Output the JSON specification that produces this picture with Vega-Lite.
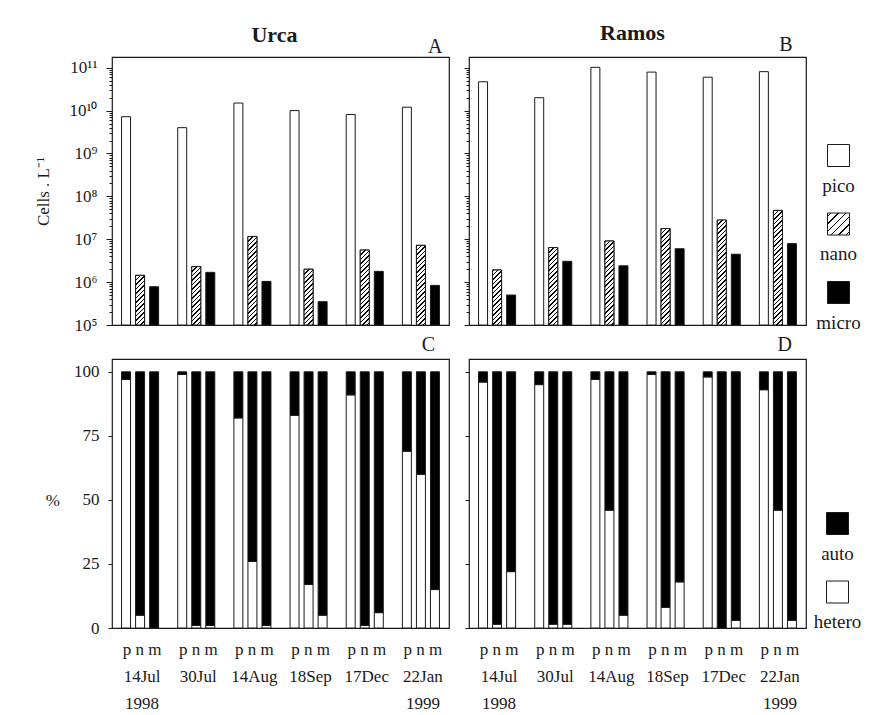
{
"$schema": "https://vega.github.io/schema/vega-lite/v6.json",
"autosize": {"type": "none"},
"padding": {"left": 112, "top": 57, "right": 762, "bottom": 658},
"background": "white",
"bounds": "flush",
"columns": 2,
"spacing": {"row": 34, "column": 20},
"params": [{"name": "hatch", "value": [
{"offset":0,"color":"#000"},{"offset":0.0115,"color":"#000"},{"offset":0.0115,"color":"#fff"},{"offset":0.0345,"color":"#fff"},
{"offset":0.0345,"color":"#000"},{"offset":0.046,"color":"#000"},{"offset":0.046,"color":"#fff"},{"offset":0.069,"color":"#fff"},
{"offset":0.069,"color":"#000"},{"offset":0.0805,"color":"#000"},{"offset":0.0805,"color":"#fff"},{"offset":0.1034,"color":"#fff"},
{"offset":0.1034,"color":"#000"},{"offset":0.1149,"color":"#000"},{"offset":0.1149,"color":"#fff"},{"offset":0.1379,"color":"#fff"},
{"offset":0.1379,"color":"#000"},{"offset":0.1494,"color":"#000"},{"offset":0.1494,"color":"#fff"},{"offset":0.1724,"color":"#fff"},
{"offset":0.1724,"color":"#000"},{"offset":0.1839,"color":"#000"},{"offset":0.1839,"color":"#fff"},{"offset":0.2069,"color":"#fff"},
{"offset":0.2069,"color":"#000"},{"offset":0.2184,"color":"#000"},{"offset":0.2184,"color":"#fff"},{"offset":0.2414,"color":"#fff"},
{"offset":0.2414,"color":"#000"},{"offset":0.2529,"color":"#000"},{"offset":0.2529,"color":"#fff"},{"offset":0.2759,"color":"#fff"},
{"offset":0.2759,"color":"#000"},{"offset":0.2874,"color":"#000"},{"offset":0.2874,"color":"#fff"},{"offset":0.3103,"color":"#fff"},
{"offset":0.3103,"color":"#000"},{"offset":0.3218,"color":"#000"},{"offset":0.3218,"color":"#fff"},{"offset":0.3448,"color":"#fff"},
{"offset":0.3448,"color":"#000"},{"offset":0.3563,"color":"#000"},{"offset":0.3563,"color":"#fff"},{"offset":0.3793,"color":"#fff"},
{"offset":0.3793,"color":"#000"},{"offset":0.3908,"color":"#000"},{"offset":0.3908,"color":"#fff"},{"offset":0.4138,"color":"#fff"},
{"offset":0.4138,"color":"#000"},{"offset":0.4253,"color":"#000"},{"offset":0.4253,"color":"#fff"},{"offset":0.4483,"color":"#fff"},
{"offset":0.4483,"color":"#000"},{"offset":0.4598,"color":"#000"},{"offset":0.4598,"color":"#fff"},{"offset":0.4828,"color":"#fff"},
{"offset":0.4828,"color":"#000"},{"offset":0.4943,"color":"#000"},{"offset":0.4943,"color":"#fff"},{"offset":0.5172,"color":"#fff"},
{"offset":0.5172,"color":"#000"},{"offset":0.5287,"color":"#000"},{"offset":0.5287,"color":"#fff"},{"offset":0.5517,"color":"#fff"},
{"offset":0.5517,"color":"#000"},{"offset":0.5632,"color":"#000"},{"offset":0.5632,"color":"#fff"},{"offset":0.5862,"color":"#fff"},
{"offset":0.5862,"color":"#000"},{"offset":0.5977,"color":"#000"},{"offset":0.5977,"color":"#fff"},{"offset":0.6207,"color":"#fff"},
{"offset":0.6207,"color":"#000"},{"offset":0.6322,"color":"#000"},{"offset":0.6322,"color":"#fff"},{"offset":0.6552,"color":"#fff"},
{"offset":0.6552,"color":"#000"},{"offset":0.6667,"color":"#000"},{"offset":0.6667,"color":"#fff"},{"offset":0.6897,"color":"#fff"},
{"offset":0.6897,"color":"#000"},{"offset":0.7012,"color":"#000"},{"offset":0.7012,"color":"#fff"},{"offset":0.7241,"color":"#fff"},
{"offset":0.7241,"color":"#000"},{"offset":0.7356,"color":"#000"},{"offset":0.7356,"color":"#fff"},{"offset":0.7586,"color":"#fff"},
{"offset":0.7586,"color":"#000"},{"offset":0.7701,"color":"#000"},{"offset":0.7701,"color":"#fff"},{"offset":0.7931,"color":"#fff"},
{"offset":0.7931,"color":"#000"},{"offset":0.8046,"color":"#000"},{"offset":0.8046,"color":"#fff"},{"offset":0.8276,"color":"#fff"},
{"offset":0.8276,"color":"#000"},{"offset":0.8391,"color":"#000"},{"offset":0.8391,"color":"#fff"},{"offset":0.8621,"color":"#fff"},
{"offset":0.8621,"color":"#000"},{"offset":0.8736,"color":"#000"},{"offset":0.8736,"color":"#fff"},{"offset":0.8966,"color":"#fff"},
{"offset":0.8966,"color":"#000"},{"offset":0.9081,"color":"#000"},{"offset":0.9081,"color":"#fff"},{"offset":0.931,"color":"#fff"},
{"offset":0.931,"color":"#000"},{"offset":0.9425,"color":"#000"},{"offset":0.9425,"color":"#fff"},{"offset":0.9655,"color":"#fff"},
{"offset":0.9655,"color":"#000"},{"offset":0.977,"color":"#000"},{"offset":0.977,"color":"#fff"},{"offset":1,"color":"#fff"}
]},
{"name": "legendHatch", "value": [
{"offset":0.0663,"color":"#fff"},{"offset":0.0663,"color":"#000"},{"offset":0.1003,"color":"#000"},{"offset":0.1003,"color":"#fff"},
{"offset":0.233,"color":"#fff"},{"offset":0.233,"color":"#000"},{"offset":0.267,"color":"#000"},{"offset":0.267,"color":"#fff"},
{"offset":0.3997,"color":"#fff"},{"offset":0.3997,"color":"#000"},{"offset":0.4337,"color":"#000"},{"offset":0.4337,"color":"#fff"},
{"offset":0.5663,"color":"#fff"},{"offset":0.5663,"color":"#000"},{"offset":0.6003,"color":"#000"},{"offset":0.6003,"color":"#fff"},
{"offset":0.733,"color":"#fff"},{"offset":0.733,"color":"#000"},{"offset":0.767,"color":"#000"},{"offset":0.767,"color":"#fff"},
{"offset":0.8997,"color":"#fff"},{"offset":0.8997,"color":"#000"},{"offset":0.9337,"color":"#000"},{"offset":0.9337,"color":"#fff"}
]}],
"config": {
  "font": "Liberation Serif",
  "view": {"stroke": "#1a1a1a", "strokeWidth": 1.2},
  "axis": {"grid": false, "domain": false, "labelFont": "Liberation Serif", "titleFont": "Liberation Serif", "labelColor": "#1a1a1a", "titleColor": "#1a1a1a", "tickColor": "#1a1a1a", "labelFontSize": 17, "titleFontSize": 17, "titleFontWeight": "normal"},
  "legend": {"labelFont": "Liberation Serif", "labelFontSize": 19, "labelColor": "#1a1a1a", "symbolType": "square", "symbolSize": 484, "symbolStrokeColor": "#1a1a1a", "symbolStrokeWidth": 1, "labelAlign": "center", "labelBaseline": "top", "labelOffset": -11.5, "rowPadding": 14.5, "padding": 0},
  "title": {"font": "Liberation Serif", "color": "#1a1a1a"},
  "bar": {"stroke": "#1a1a1a", "strokeWidth": 1}
},
"datasets": {
  "cells": [
    {"site":"Urca","date":"14Jul","size":"pico","cells":7.2e9},{"site":"Urca","date":"14Jul","size":"nano","cells":1.44e6},{"site":"Urca","date":"14Jul","size":"micro","cells":7.8e5},
    {"site":"Urca","date":"30Jul","size":"pico","cells":4.0e9},{"site":"Urca","date":"30Jul","size":"nano","cells":2.3e6},{"site":"Urca","date":"30Jul","size":"micro","cells":1.69e6},
    {"site":"Urca","date":"14Aug","size":"pico","cells":1.5e10},{"site":"Urca","date":"14Aug","size":"nano","cells":1.16e7},{"site":"Urca","date":"14Aug","size":"micro","cells":1.04e6},
    {"site":"Urca","date":"18Sep","size":"pico","cells":1.0e10},{"site":"Urca","date":"18Sep","size":"nano","cells":2.0e6},{"site":"Urca","date":"18Sep","size":"micro","cells":3.5e5},
    {"site":"Urca","date":"17Dec","size":"pico","cells":8.1e9},{"site":"Urca","date":"17Dec","size":"nano","cells":5.6e6},{"site":"Urca","date":"17Dec","size":"micro","cells":1.78e6},
    {"site":"Urca","date":"22Jan","size":"pico","cells":1.2e10},{"site":"Urca","date":"22Jan","size":"nano","cells":7.2e6},{"site":"Urca","date":"22Jan","size":"micro","cells":8.4e5},
    {"site":"Ramos","date":"14Jul","size":"pico","cells":4.7e10},{"site":"Ramos","date":"14Jul","size":"nano","cells":1.92e6},{"site":"Ramos","date":"14Jul","size":"micro","cells":5.0e5},
    {"site":"Ramos","date":"30Jul","size":"pico","cells":2.0e10},{"site":"Ramos","date":"30Jul","size":"nano","cells":6.4e6},{"site":"Ramos","date":"30Jul","size":"micro","cells":3.06e6},
    {"site":"Ramos","date":"14Aug","size":"pico","cells":1.02e11},{"site":"Ramos","date":"14Aug","size":"nano","cells":9.1e6},{"site":"Ramos","date":"14Aug","size":"micro","cells":2.4e6},
    {"site":"Ramos","date":"18Sep","size":"pico","cells":7.9e10},{"site":"Ramos","date":"18Sep","size":"nano","cells":1.78e7},{"site":"Ramos","date":"18Sep","size":"micro","cells":6.0e6},
    {"site":"Ramos","date":"17Dec","size":"pico","cells":6.0e10},{"site":"Ramos","date":"17Dec","size":"nano","cells":2.8e7},{"site":"Ramos","date":"17Dec","size":"micro","cells":4.47e6},
    {"site":"Ramos","date":"22Jan","size":"pico","cells":8.1e10},{"site":"Ramos","date":"22Jan","size":"nano","cells":4.7e7},{"site":"Ramos","date":"22Jan","size":"micro","cells":7.9e6}
  ],
  "pct": [
    {"site":"Urca","date":"14Jul","size":"pico","type":"hetero","pct":97},{"site":"Urca","date":"14Jul","size":"pico","type":"auto","pct":3},
    {"site":"Urca","date":"14Jul","size":"nano","type":"hetero","pct":5},{"site":"Urca","date":"14Jul","size":"nano","type":"auto","pct":95},
    {"site":"Urca","date":"14Jul","size":"micro","type":"hetero","pct":0},{"site":"Urca","date":"14Jul","size":"micro","type":"auto","pct":100},
    {"site":"Urca","date":"30Jul","size":"pico","type":"hetero","pct":99},{"site":"Urca","date":"30Jul","size":"pico","type":"auto","pct":1},
    {"site":"Urca","date":"30Jul","size":"nano","type":"hetero","pct":1},{"site":"Urca","date":"30Jul","size":"nano","type":"auto","pct":99},
    {"site":"Urca","date":"30Jul","size":"micro","type":"hetero","pct":1},{"site":"Urca","date":"30Jul","size":"micro","type":"auto","pct":99},
    {"site":"Urca","date":"14Aug","size":"pico","type":"hetero","pct":82},{"site":"Urca","date":"14Aug","size":"pico","type":"auto","pct":18},
    {"site":"Urca","date":"14Aug","size":"nano","type":"hetero","pct":26},{"site":"Urca","date":"14Aug","size":"nano","type":"auto","pct":74},
    {"site":"Urca","date":"14Aug","size":"micro","type":"hetero","pct":1},{"site":"Urca","date":"14Aug","size":"micro","type":"auto","pct":99},
    {"site":"Urca","date":"18Sep","size":"pico","type":"hetero","pct":83},{"site":"Urca","date":"18Sep","size":"pico","type":"auto","pct":17},
    {"site":"Urca","date":"18Sep","size":"nano","type":"hetero","pct":17},{"site":"Urca","date":"18Sep","size":"nano","type":"auto","pct":83},
    {"site":"Urca","date":"18Sep","size":"micro","type":"hetero","pct":5},{"site":"Urca","date":"18Sep","size":"micro","type":"auto","pct":95},
    {"site":"Urca","date":"17Dec","size":"pico","type":"hetero","pct":91},{"site":"Urca","date":"17Dec","size":"pico","type":"auto","pct":9},
    {"site":"Urca","date":"17Dec","size":"nano","type":"hetero","pct":1},{"site":"Urca","date":"17Dec","size":"nano","type":"auto","pct":99},
    {"site":"Urca","date":"17Dec","size":"micro","type":"hetero","pct":6},{"site":"Urca","date":"17Dec","size":"micro","type":"auto","pct":94},
    {"site":"Urca","date":"22Jan","size":"pico","type":"hetero","pct":69},{"site":"Urca","date":"22Jan","size":"pico","type":"auto","pct":31},
    {"site":"Urca","date":"22Jan","size":"nano","type":"hetero","pct":60},{"site":"Urca","date":"22Jan","size":"nano","type":"auto","pct":40},
    {"site":"Urca","date":"22Jan","size":"micro","type":"hetero","pct":15},{"site":"Urca","date":"22Jan","size":"micro","type":"auto","pct":85},
    {"site":"Ramos","date":"14Jul","size":"pico","type":"hetero","pct":96},{"site":"Ramos","date":"14Jul","size":"pico","type":"auto","pct":4},
    {"site":"Ramos","date":"14Jul","size":"nano","type":"hetero","pct":1.5},{"site":"Ramos","date":"14Jul","size":"nano","type":"auto","pct":98.5},
    {"site":"Ramos","date":"14Jul","size":"micro","type":"hetero","pct":22},{"site":"Ramos","date":"14Jul","size":"micro","type":"auto","pct":78},
    {"site":"Ramos","date":"30Jul","size":"pico","type":"hetero","pct":95},{"site":"Ramos","date":"30Jul","size":"pico","type":"auto","pct":5},
    {"site":"Ramos","date":"30Jul","size":"nano","type":"hetero","pct":1.5},{"site":"Ramos","date":"30Jul","size":"nano","type":"auto","pct":98.5},
    {"site":"Ramos","date":"30Jul","size":"micro","type":"hetero","pct":1.5},{"site":"Ramos","date":"30Jul","size":"micro","type":"auto","pct":98.5},
    {"site":"Ramos","date":"14Aug","size":"pico","type":"hetero","pct":97},{"site":"Ramos","date":"14Aug","size":"pico","type":"auto","pct":3},
    {"site":"Ramos","date":"14Aug","size":"nano","type":"hetero","pct":46},{"site":"Ramos","date":"14Aug","size":"nano","type":"auto","pct":54},
    {"site":"Ramos","date":"14Aug","size":"micro","type":"hetero","pct":5},{"site":"Ramos","date":"14Aug","size":"micro","type":"auto","pct":95},
    {"site":"Ramos","date":"18Sep","size":"pico","type":"hetero","pct":99},{"site":"Ramos","date":"18Sep","size":"pico","type":"auto","pct":1},
    {"site":"Ramos","date":"18Sep","size":"nano","type":"hetero","pct":8},{"site":"Ramos","date":"18Sep","size":"nano","type":"auto","pct":92},
    {"site":"Ramos","date":"18Sep","size":"micro","type":"hetero","pct":18},{"site":"Ramos","date":"18Sep","size":"micro","type":"auto","pct":82},
    {"site":"Ramos","date":"17Dec","size":"pico","type":"hetero","pct":98},{"site":"Ramos","date":"17Dec","size":"pico","type":"auto","pct":2},
    {"site":"Ramos","date":"17Dec","size":"nano","type":"hetero","pct":0},{"site":"Ramos","date":"17Dec","size":"nano","type":"auto","pct":100},
    {"site":"Ramos","date":"17Dec","size":"micro","type":"hetero","pct":3},{"site":"Ramos","date":"17Dec","size":"micro","type":"auto","pct":97},
    {"site":"Ramos","date":"22Jan","size":"pico","type":"hetero","pct":93},{"site":"Ramos","date":"22Jan","size":"pico","type":"auto","pct":7},
    {"site":"Ramos","date":"22Jan","size":"nano","type":"hetero","pct":46},{"site":"Ramos","date":"22Jan","size":"nano","type":"auto","pct":54},
    {"site":"Ramos","date":"22Jan","size":"micro","type":"hetero","pct":3},{"site":"Ramos","date":"22Jan","size":"micro","type":"auto","pct":97}
  ]
},
"resolve": {"scale": {"color": "independent"}},
"concat": [
    {
      "width": 337, "height": 268,
      "data": {"name": "cells"},
      "transform": [{"filter": "datum.site === 'Urca'"}],
      "title": {"text": "Urca", "fontSize": 22, "fontWeight": "bold", "anchor": "middle", "frame": "group", "dx": -6, "offset": -28, "baseline": "alphabetic"},
      "encoding": {
        "x": {"field": "date", "type": "nominal", "sort": ["14Jul","30Jul","14Aug","18Sep","17Dec","22Jan"], "scale": {"paddingInner": 0, "paddingOuter": 0},
              "axis": {"orient": "top", "labels": false, "ticks": false, "domain": false, "title": "A", "titleFontSize": 20, "titleX": 330, "titleY": -5, "titleAlign": "right", "titleBaseline": "alphabetic"}},
        "xOffset": {"field": "size", "type": "nominal", "sort": ["pico","nano","micro"], "scale": {"paddingInner": 0.36, "paddingOuter": 0.68}},
        "y": {"field": "cells", "type": "quantitative", "scale": {"type": "log", "domain": [1e5, 1.778e11], "nice": false},
              "axis": {"title": "Cells . L⁻¹", "titlePadding": 16,
                       "values": [1e5,2e5,3e5,4e5,5e5,6e5,7e5,8e5,9e5,1e6,2e6,3e6,4e6,5e6,6e6,7e6,8e6,9e6,1e7,2e7,3e7,4e7,5e7,6e7,7e7,8e7,9e7,1e8,2e8,3e8,4e8,5e8,6e8,7e8,8e8,9e8,1e9,2e9,3e9,4e9,5e9,6e9,7e9,8e9,9e9,1e10,2e10,3e10,4e10,5e10,6e10,7e10,8e10,9e10,1e11],
                       "labelExpr": "abs(log(datum.value)/LN10 - round(log(datum.value)/LN10)) < 0.01 ? '10' + ['⁰','¹','²','³','⁴','⁵','⁶','⁷','⁸','⁹','¹⁰','¹¹'][round(log(datum.value)/LN10)] : ''",
                       "tickSize": {"condition": {"test": "abs(log(datum.value)/LN10 - round(log(datum.value)/LN10)) < 0.01", "value": 6}, "value": 3},
                       "labelPadding": 9, "labelOverlap": false, "labelFlush": false, "labelBound": false}},
        "y2": {"datum": 1e5}
      },
      "layer": [
        {"mark": {"type": "bar"},
         "encoding": {"color": {"field": "size", "type": "nominal",
            "scale": {"domain": ["pico","nano","micro"], "range": ["white", {"expr": "{gradient: 'linear', x1: 0, y1: 0, x2: 1, y2: 1, stops: legendHatch}"}, "black"]},
            "legend": {"title": null, "orient": "none", "legendX": 715, "legendY": 87, "labelExpr": "['', datum.label]"}}}},
        {"transform": [{"filter": "datum.size === 'nano'"}],
         "mark": {"type": "bar", "fill": {"expr": "{gradient: 'linear', x1: 0, y1: 0, x2: 1174.5 / (81 + pow((log(datum.cells) / LN10 - 5) * 42.88, 2)), y2: 130.5 * (log(datum.cells) / LN10 - 5) * 42.88 / (81 + pow((log(datum.cells) / LN10 - 5) * 42.88, 2)), stops: hatch}"}}}
      ]
    },
    {
      "width": 337, "height": 268,
      "data": {"name": "cells"},
      "transform": [{"filter": "datum.site === 'Ramos'"}],
      "title": {"text": "Ramos", "fontSize": 22, "fontWeight": "bold", "anchor": "middle", "frame": "group", "dx": -5, "offset": -28, "baseline": "alphabetic"},
      "encoding": {
        "x": {"field": "date", "type": "nominal", "sort": ["14Jul","30Jul","14Aug","18Sep","17Dec","22Jan"], "scale": {"paddingInner": 0, "paddingOuter": 0},
              "axis": {"orient": "top", "labels": false, "ticks": false, "domain": false, "title": "B", "titleFontSize": 20, "titleX": 323, "titleY": -7, "titleAlign": "right", "titleBaseline": "alphabetic"}},
        "xOffset": {"field": "size", "type": "nominal", "sort": ["pico","nano","micro"], "scale": {"paddingInner": 0.36, "paddingOuter": 0.68}},
        "y": {"field": "cells", "type": "quantitative", "scale": {"type": "log", "domain": [1e5, 1.778e11], "nice": false},
              "axis": {"title": null, "labels": false,
                       "values": [1e5,2e5,3e5,4e5,5e5,6e5,7e5,8e5,9e5,1e6,2e6,3e6,4e6,5e6,6e6,7e6,8e6,9e6,1e7,2e7,3e7,4e7,5e7,6e7,7e7,8e7,9e7,1e8,2e8,3e8,4e8,5e8,6e8,7e8,8e8,9e8,1e9,2e9,3e9,4e9,5e9,6e9,7e9,8e9,9e9,1e10,2e10,3e10,4e10,5e10,6e10,7e10,8e10,9e10,1e11],
                       "tickSize": {"condition": {"test": "abs(log(datum.value)/LN10 - round(log(datum.value)/LN10)) < 0.01", "value": 5}, "value": 3}}},
        "y2": {"datum": 1e5}
      },
      "layer": [
        {"mark": {"type": "bar"},
         "encoding": {"color": {"field": "size", "type": "nominal",
            "scale": {"domain": ["pico","nano","micro"], "range": ["white", {"expr": "{gradient: 'linear', x1: 0, y1: 0, x2: 1, y2: 1, stops: legendHatch}"}, "black"]},
            "legend": null}}},
        {"transform": [{"filter": "datum.size === 'nano'"}],
         "mark": {"type": "bar", "fill": {"expr": "{gradient: 'linear', x1: 0, y1: 0, x2: 1174.5 / (81 + pow((log(datum.cells) / LN10 - 5) * 42.88, 2)), y2: 130.5 * (log(datum.cells) / LN10 - 5) * 42.88 / (81 + pow((log(datum.cells) / LN10 - 5) * 42.88, 2)), stops: hatch}"}}}
      ]
    },
    {
      "width": 337, "height": 269,
      "data": {"name": "pct"},
      "transform": [{"filter": "datum.site === 'Urca'"}],
      "title": {"text": "C", "fontSize": 20, "fontWeight": "normal", "anchor": "end", "frame": "group", "dx": -14, "offset": -12, "baseline": "alphabetic"},
      "mark": {"type": "bar"},
      "encoding": {
        "x": {"field": "date", "type": "nominal", "sort": ["14Jul","30Jul","14Aug","18Sep","17Dec","22Jan"], "scale": {"paddingInner": 0, "paddingOuter": 0},
              "axis": {"title": null, "ticks": false, "domain": false, "labelAngle": 0, "labelLineHeight": 27, "labelPadding": 13, "labelOffset": 2,
                       "labelExpr": "['p n m', datum.value, datum.value === '14Jul' ? '1998' : datum.value === '22Jan' ? '1999' : '']"}},
        "xOffset": {"field": "size", "type": "nominal", "sort": ["pico","nano","micro"], "scale": {"paddingInner": 0.36, "paddingOuter": 0.68}},
        "y": {"field": "pct", "type": "quantitative", "stack": "zero", "scale": {"domain": [0, 105], "nice": false},
              "axis": {"values": [0,25,50,75,100], "title": "%", "titleAngle": 0, "titleAlign": "right", "titleBaseline": "middle", "titleY": 141, "titlePadding": 14, "tickSize": 4, "labelPadding": 9, "labelFlush": false}},
        "color": {"field": "type", "type": "nominal", "scale": {"domain": ["auto","hetero"], "range": ["black","white"]},
                  "legend": {"title": null, "orient": "none", "legendX": 714, "legendY": 153, "labelExpr": "['', datum.label]"}},
        "order": {"field": "type", "sort": "descending"}
      }
    },
    {
      "width": 337, "height": 269,
      "data": {"name": "pct"},
      "transform": [{"filter": "datum.site === 'Ramos'"}],
      "title": {"text": "D", "fontSize": 20, "fontWeight": "normal", "anchor": "end", "frame": "group", "dx": -14, "offset": -12, "baseline": "alphabetic"},
      "mark": {"type": "bar"},
      "encoding": {
        "x": {"field": "date", "type": "nominal", "sort": ["14Jul","30Jul","14Aug","18Sep","17Dec","22Jan"], "scale": {"paddingInner": 0, "paddingOuter": 0},
              "axis": {"title": null, "ticks": false, "domain": false, "labelAngle": 0, "labelLineHeight": 27, "labelPadding": 13, "labelOffset": 2,
                       "labelExpr": "['p n m', datum.value, datum.value === '14Jul' ? '1998' : datum.value === '22Jan' ? '1999' : '']"}},
        "xOffset": {"field": "size", "type": "nominal", "sort": ["pico","nano","micro"], "scale": {"paddingInner": 0.36, "paddingOuter": 0.68}},
        "y": {"field": "pct", "type": "quantitative", "stack": "zero", "scale": {"domain": [0, 105], "nice": false},
              "axis": {"values": [0,25,50,75,100], "title": null, "labels": false, "tickSize": 4}},
        "color": {"field": "type", "type": "nominal", "scale": {"domain": ["auto","hetero"], "range": ["black","white"]},
                  "legend": null},
        "order": {"field": "type", "sort": "descending"}
      }
    }
]
}
